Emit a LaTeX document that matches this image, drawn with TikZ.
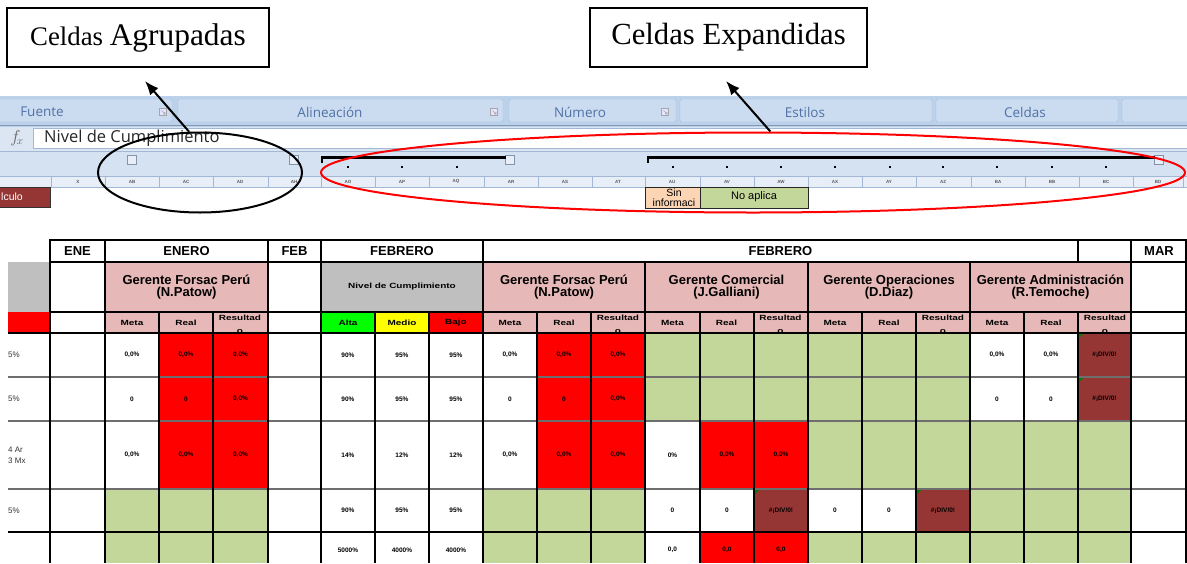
\documentclass[tikz,border=0pt]{standalone}
\usepackage{fontspec}
\usepackage{graphicx}
\setmainfont{Liberation Serif}
\newfontfamily\uifont{Open Sans}
\newfontfamily\xlfont{Liberation Sans}
\usetikzlibrary{arrows.meta,shapes.geometric}
\definecolor{pinkh}{HTML}{E6B8B7}
\definecolor{grayh}{HTML}{BFBFBF}
\definecolor{olive}{HTML}{C4D79B}
\definecolor{brownc}{HTML}{963634}
\definecolor{redc}{HTML}{FF0000}
\definecolor{greenc}{HTML}{00FF00}
\definecolor{yellowc}{HTML}{FFFF00}
\definecolor{peach}{HTML}{FCD5B4}
\definecolor{ribbg}{HTML}{BCD1EA}
\definecolor{ribbox}{HTML}{CCDCF0}
\definecolor{ribedge}{HTML}{A3BEE0}
\definecolor{riblab}{HTML}{4F71A6}
\definecolor{fbar}{HTML}{DCE6F3}
\definecolor{outl}{HTML}{D5E2F2}
\definecolor{colhdr}{HTML}{E8EEF7}
\definecolor{coledge}{HTML}{A3B8D4}
\definecolor{gridgray}{HTML}{6E6E6E}
\definecolor{tri}{HTML}{008000}
\newcommand\fsz[1]{\fontsize{#1}{#1}\selectfont}
\newcommand\sxx[1]{\scalebox{1.33}[1]{#1}}
\tikzset{
  callout/.style={draw, line width=1.5pt, inner sep=0, minimum height=59pt},
  arrowline/.style={line width=2pt, -{Latex[length=14pt,width=11pt]}},
  ribgroup/.style={fill=ribbox, draw=ribedge, rounded corners=2pt},
  riblabel/.style={font=\uifont\fsz{13.5}, text=riblab, inner sep=0},
  launcher/.style={draw=gray!70, fill=white!90!blue, line width=0.6pt},
  colsep/.style={draw=coledge, line width=0.8pt},
  collab/.style={font=\xlfont\bfseries\fsz{4.5}, text=black!65, inner sep=0},
  outsq/.style={draw=coledge!80!black, fill=colhdr, line width=0.8pt},
  bracket/.style={line width=2.4pt},
  hdr/.style={font=\xlfont\bfseries\fontsize{13}{12.5}\selectfont, align=center, inner sep=0},
  sub/.style={font=\xlfont\bfseries\fsz{7.5}, inner sep=0},
  num/.style={font=\xlfont\bfseries\fsz{6.5}, inner sep=0},
  lefttxt/.style={font=\xlfont\fsz{8}, text=black!80, inner sep=0, anchor=west},
  major/.style={line width=1.8pt},
  minor/.style={line width=1.1pt},
  rowsep/.style={draw=gridgray, line width=1.8pt},
  ring/.style={ellipse, draw, line width=2pt, inner sep=0},
}
\begin{document}
\begin{tikzpicture}[x=1pt,y=-1pt]
\useasboundingbox[fill=white] (0,0) rectangle (1187,563);

% ---------- ribbon ----------
\fill[ribbg] (0,96) rectangle (1187,127);
\draw[ribgroup] (-2,99) rectangle (172,122);
\draw[ribgroup] (178,99) rectangle (503,122);
\draw[ribgroup] (509,99) rectangle (676,122);
\draw[ribgroup] (680,99) rectangle (932,122);
\draw[ribgroup] (936,99) rectangle (1118,122);
\draw[ribgroup] (1122,99) rectangle (1190,122);
\draw[ribedge!80!black, line width=1pt] (0,125) -- (1187,125);
\node[riblabel] (lfuente) at (42,112) {Fuente};
\node[riblabel] (lalin) at (330,112) {Alineación};
\node[riblabel] (lnum) at (580,112) {Número};
\node[riblabel] (lest) at (805,112) {Estilos};
\node[riblabel] (lceld) at (1025,112) {Celdas};
\foreach \lx in {163,494,665}{
  \draw[launcher] (\lx-3.5,108.5) rectangle (\lx+3.5,115.5);
  \draw[gray!70, line width=0.6pt] (\lx-1.5,110.5) -- (\lx+2,114) (\lx+2,112) -- (\lx+2,114) -- (\lx,114);
}

% ---------- formula bar ----------
\fill[fbar] (0,127) rectangle (1187,151);
\draw[draw=coledge, fill=white, line width=0.8pt] (33,128.5) rectangle (1190,148.5);
\node[font=\fsz{16}, text=black!60, inner sep=0] (fx) at (17,138) {$f_{\!x}$};
\node[font=\uifont\fsz{16.5}, text=black!85, inner sep=0, anchor=west] (formula) at (44,138) {Nivel de Cumplimiento};

% ---------- outline strip and column headers ----------
\fill[outl] (0,151) rectangle (1187,176);
\draw[coledge, line width=0.8pt] (0,151) -- (1187,151);
\fill[colhdr] (0,176) rectangle (1187,187);
\draw[colsep] (0,176) -- (1187,176) (0,187) -- (1187,187);
\foreach \cx in {51,105,159,213,268,321,375,429,484,538,592,645,700,754,808,862,916,971,1025,1079,1133,1183}{
  \draw[colsep] (\cx,176) -- (\cx,187);
}
\foreach \cx/\cl in {78/X,132/AB,186/AC,240/AD,294/AH,348/AO,402/AP,456/AQ,511/AR,565/AS,618/AT,672/AU,727/AV,781/AW,835/AX,889/AY,943/AZ,998/BA,1052/BB,1106/BC,1158/BD}{
  \node[collab] at (\cx,181.5) {\cl};
}
\foreach \sqx in {132,294,510,1159}{
  \draw[outsq] (\sqx-4.5,155.5) rectangle (\sqx+4.5,164.5);
}
\draw[bracket] (322,162.5) -- (322,157.5) -- (505.5,157.5);
\draw[bracket] (648,162.5) -- (648,157.5) -- (1154.5,157.5);
\foreach \dx in {348,402,457,673,727,781,835,890,943,997,1052,1106}{
  \fill (\dx-1.2,165.8) rectangle (\dx+1.2,168.2);
}

% ---------- cells below headers ----------
\draw[fill=brownc, draw=black!80, line width=0.8pt] (-1,187) rectangle (50,207);
\node[font=\xlfont\fsz{10.5}, text=white, inner sep=0, anchor=west] (calc) at (1,197) {lculo};
\begin{scope}
\clip (645,187) rectangle (700,208);
\draw[fill=peach, draw=black!85, line width=1pt] (645,187) rectangle (700,208);
\node[font=\xlfont\fontsize{10.5}{10.5}\selectfont, align=center, inner sep=0] (sininf) at (674,197.5) {Sin\\informaci};
\end{scope}
\draw[draw=black!85, line width=1pt] (645,187) rectangle (700,208);
\draw[fill=olive, draw=black!85, line width=1pt] (700,187) rectangle (808,208);
\node[font=\xlfont\fsz{11}, inner sep=0] (noap) at (754,197) {No aplica};

% ---------- table header fills ----------
\fill[grayh] (8,262) rectangle (50,312);
\fill[pinkh] (105,262) rectangle (268,333);
\fill[grayh] (321,262) rectangle (483,312);
\fill[pinkh] (483,262) rectangle (1131,333);
\fill[redc] (8,312) rectangle (50,333);
\fill[greenc] (321,312) rectangle (375,333);
\fill[yellowc] (375,312) rectangle (429,333);
\fill[redc] (429,312) rectangle (483,333);

% header texts
\node[hdr] (hene) at (77.5,251) {ENE};
\node[hdr] (henero) at (186.5,251) {ENERO};
\node[hdr] (hfeb) at (294.5,251) {FEB};
\node[hdr] (hfeb1) at (402,251) {FEBRERO};
\node[hdr] (hfeb2) at (780.5,251) {FEBRERO};
\node[hdr] (hmar) at (1159,251) {MAR};
\node[hdr] (g1) at (186.5,287) {Gerente Forsac Perú\\(N.Patow)};
\node[sub] (niv) at (402,287) {\sxx{Nivel de Cumplimiento}};
\node[hdr] (g2) at (564,287) {Gerente Forsac Perú\\(N.Patow)};
\node[hdr] (g3) at (726.5,287) {Gerente Comercial\\(J.Galliani)};
\node[hdr] (g4) at (889,287) {Gerente Operaciones\\(D.Diaz)};
\node[hdr] (g5) at (1050.5,287) {Gerente Administración\\(R.Temoche)};
\foreach \mx in {132,510,672.5,835,997}{
  \node[sub] at (\mx,323) {\sxx{Meta}};
  \node[sub] at (\mx+54,323) {\sxx{Real}};
  \node[sub] at (\mx+108,317.5) {\sxx{Resultad}};
  \node[sub] at (\mx+108,331.5) {\sxx{o}};
}
\node[sub] (alta) at (348,323) {\sxx{Alta}};
\node[sub] (medio) at (402,323) {\sxx{Medio}};
\node[sub] (bajo) at (456,323) {\sxx{Bajo}};

% ---------- body fills ----------
\fill[white] (0,333) rectangle (1187,563);
% row 4 and 5
\foreach \ya/\yb in {333/377,377/421}{
  \fill[redc] (159,\ya) rectangle (268,\yb);
  \fill[redc] (537,\ya) rectangle (645,\yb);
  \fill[olive] (645,\ya) rectangle (970,\yb);
  \fill[brownc] (1078,\ya) rectangle (1131,\yb);
  \fill[tri] (1078,\ya) -- (1084,\ya) -- (1078,\ya+6) -- cycle;
}
% row 6
\fill[redc] (159,421) rectangle (268,489);
\fill[redc] (537,421) rectangle (645,489);
\fill[redc] (700,421) rectangle (808,489);
\fill[olive] (808,421) rectangle (1131,489);
% row 7
\fill[olive] (105,489) rectangle (268,532);
\fill[olive] (483,489) rectangle (645,532);
\fill[brownc] (754,489) rectangle (808,532);
\fill[brownc] (916,489) rectangle (970,532);
\fill[olive] (970,489) rectangle (1131,532);
\fill[tri] (754,489) -- (760,489) -- (754,495) -- cycle;
\fill[tri] (916,489) -- (922,489) -- (916,495) -- cycle;
% row 8
\fill[olive] (105,532) rectangle (268,563);
\fill[olive] (483,532) rectangle (645,563);
\fill[redc] (700,532) rectangle (808,563);
\fill[olive] (808,532) rectangle (1131,563);

% ---------- grid ----------
\draw[major] (50,240) -- (1187,240);
\draw[major] (50,262) -- (1187,262);
\draw[major] (50,312) -- (1187,312);
\draw[major] (8,333) -- (1187,333);
\draw[rowsep] (8,377) -- (1187,377);
\draw[rowsep] (8,421) -- (1187,421);
\draw[rowsep] (8,489) -- (1187,489);
\draw[major] (8,532) -- (1187,532);
\foreach \vx in {50,105,268,321,483,1131}{\draw[major] (\vx,239.1) -- (\vx,563);}
\draw[major] (1078,240) -- (1078,262);
\foreach \vx in {645,808,970}{\draw[major] (\vx,262) -- (\vx,563);}
\draw[major] (1186,239.1) -- (1186,563);
\foreach \vx in {159,213,375,429,537,591,700,754,862,916,1024,1078}{\draw[minor] (\vx,312) -- (\vx,563);}

% ---------- body text ----------
\node[lefttxt] at (8,355) {5\%};
\node[lefttxt] at (8,399) {5\%};
\node[lefttxt] at (8,450) {4 Ar};
\node[lefttxt] at (8,461) {3 Mx};
\node[lefttxt] at (8,510.5) {5\%};
% row 4
\foreach \nx/\nt in {132/{0,0\%},186/{0,0\%},240.5/{0,0\%},348/90\%,402/95\%,456/95\%,510/{0,0\%},564/{0,0\%},618/{0,0\%},997/{0,0\%},1051/{0,0\%},1104.5/{\#¡DIV/0!}}{
  \node[num] at (\nx,355) {\nt};
}
% row 5
\foreach \nx/\nt in {132/0,186/0,240.5/{0,0\%},348/90\%,402/95\%,456/95\%,510/0,564/0,618/{0,0\%},997/0,1051/0,1104.5/{\#¡DIV/0!}}{
  \node[num] at (\nx,399) {\nt};
}
% row 6
\foreach \nx/\nt in {132/{0,0\%},186/{0,0\%},240.5/{0,0\%},348/14\%,402/12\%,456/12\%,510/{0,0\%},564/{0,0\%},618/{0,0\%},672.5/0\%,727/{0,0\%},781/{0,0\%}}{
  \node[num] at (\nx,455) {\nt};
}
% row 7
\foreach \nx/\nt in {348/90\%,402/95\%,456/95\%,672.5/0,727/0,781/{\#¡DIV/0!},835/0,889/0,943/{\#¡DIV/0!}}{
  \node[num] at (\nx,510.5) {\nt};
}
% row 8
\foreach \nx/\nt in {348/5000\%,402/4000\%,456/4000\%,672.5/{0,0},727/{0,0},781/{0,0}}{
  \node[num] at (\nx,550) {\nt};
}

% ---------- callouts ----------
\node[callout, minimum width=262pt] (boxA) at (138,37.5) {\fsz{26.8}Celdas \fsz{31.4}Agrupadas};
\node[callout, minimum width=277pt] (boxB) at (728.5,37.5) {\fsz{30.7}Celdas Expandidas};
\node[ring, minimum width=204pt, minimum height=80pt] (grp) at (200,172.5) {};
\node[ring, draw=red, minimum width=864pt, minimum height=80pt] (exp) at (753,172.5) {};
\coordinate (tipA) at (145,81);
\coordinate (tipB) at (726,81);
\draw[arrowline] (grp.105) -- (tipA);
\draw[arrowline] (exp.67) -- (tipB);
\end{tikzpicture}
\end{document}
